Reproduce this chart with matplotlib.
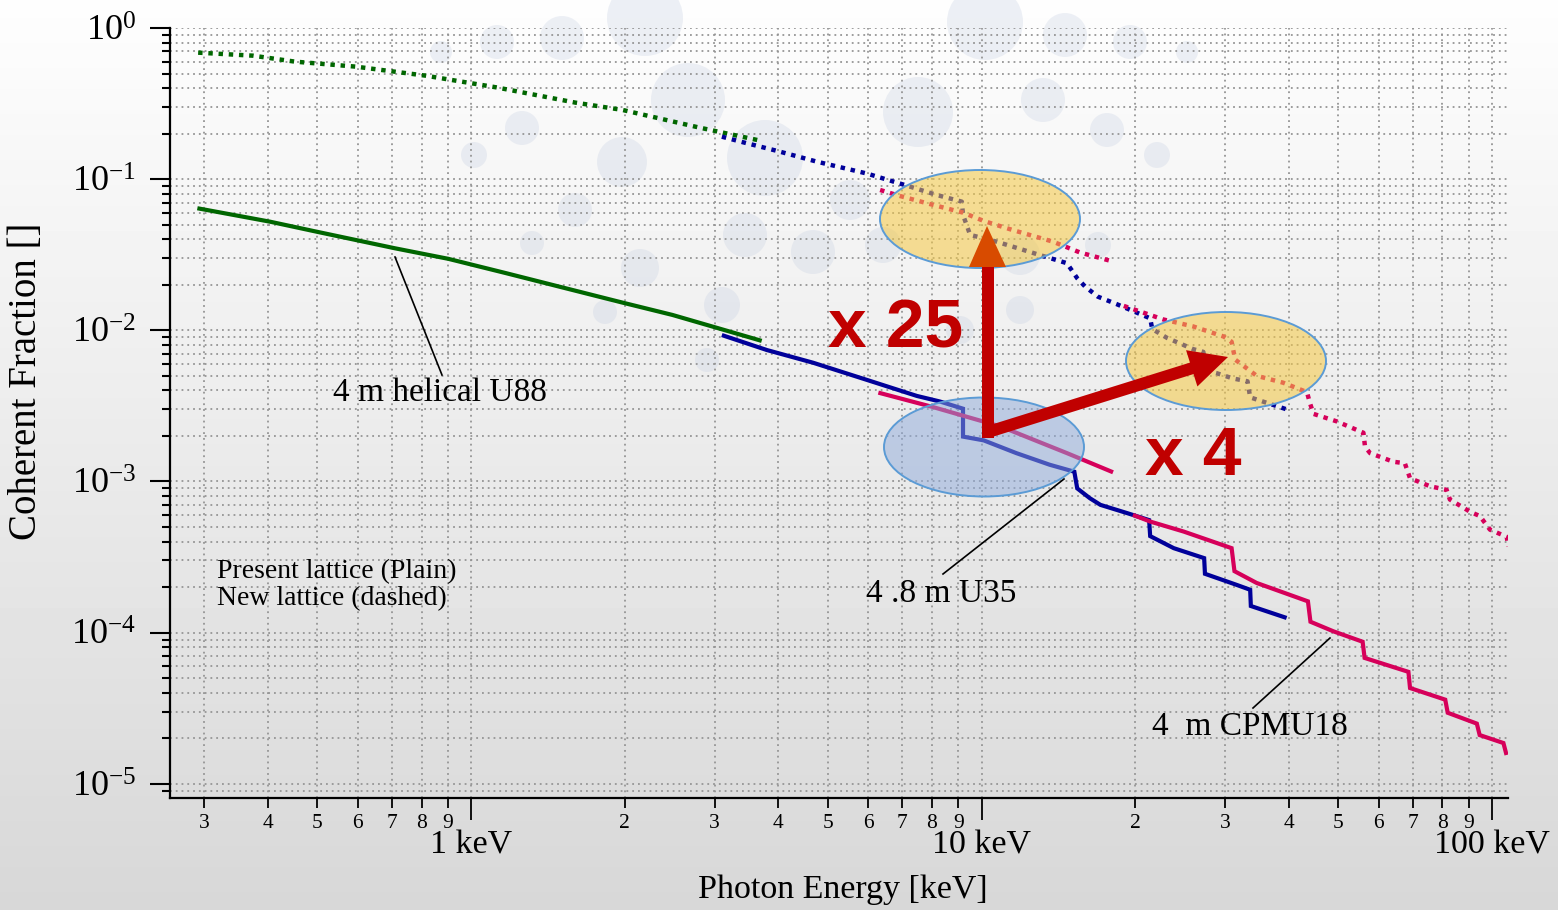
import numpy as np
import matplotlib
matplotlib.use("Agg")
import matplotlib.pyplot as plt
from matplotlib.patches import Ellipse, Circle, FancyArrow, Polygon
from matplotlib.transforms import Affine2D
from matplotlib.ticker import FixedLocator, FixedFormatter, LogLocator, FuncFormatter, NullFormatter
from matplotlib.lines import Line2D

plt.rcParams['font.family'] = ['Liberation Serif', 'DejaVu Serif']
plt.rcParams['mathtext.fontset'] = 'custom'
plt.rcParams['mathtext.rm'] = 'Liberation Serif'
plt.rcParams['mathtext.it'] = 'Liberation Serif:italic'
plt.rcParams['mathtext.bf'] = 'Liberation Serif:bold'

# ---- coherent fraction vs photon energy [keV] ----
# 4 m helical U88
u88_present_e = [0.291, 0.404, 0.497, 0.709, 0.903, 1.17, 1.53, 1.98, 2.48, 3.05, 3.71]
u88_present_cf = [0.0642, 0.0523, 0.0450, 0.0349, 0.0297, 0.0239, 0.0190, 0.01525, 0.01264, 0.01032, 0.00851]
u88_new_e = [0.292, 0.374, 0.452, 0.595, 0.814, 1.12, 1.60, 1.98, 2.79, 3.71]
u88_new_cf = [0.687, 0.656, 0.599, 0.555, 0.484, 0.405, 0.321, 0.287, 0.220, 0.179]

# 4.8 m U35
u35_present_e = [3.10, 3.80, 4.68, 5.96, 7.47, 8.29, 9.20, 9.20, 10.1, 11.7, 13.6, 15.2, 15.4, 16.3,
                 17.1, 19.3, 21.3, 21.4, 23.8, 27.3, 27.4, 31.6, 33.6, 33.7, 39.6]
u35_present_cf = [0.0093, 0.0074, 0.0061, 0.0047, 0.00368, 0.00338, 0.00303, 0.00198, 0.00187, 0.00154,
                  0.00129, 0.00116, 0.00090, 0.000775, 0.00070, 0.000617, 0.000555, 0.000435, 0.000362,
                  0.000311, 0.000245, 0.000207, 0.000192, 0.000150, 0.000125]
u35_new_e = [3.10, 3.42, 3.97, 4.76, 5.96, 7.14, 8.17, 9.15, 9.2, 9.5, 10.7, 13.0, 14.7, 15.4, 15.95,
             16.9, 18.4, 21.4, 21.6, 23.1, 26.0, 27.2, 27.6, 28.9, 31.1, 33.2, 33.6, 39.6]
u35_new_cf = [0.191, 0.175, 0.154, 0.1305, 0.109, 0.0906, 0.0786, 0.071, 0.058, 0.0428, 0.0386, 0.0315,
              0.0278, 0.0221, 0.0195, 0.0167, 0.0149, 0.0120, 0.0102, 0.0089, 0.0075, 0.0072, 0.0054,
              0.0052, 0.0048, 0.0046, 0.0036, 0.0030]

# 4 m CPMU18 (two harmonic ranges)
cpmu18_present_lo_e = [6.28, 8.05, 10.9, 14.7, 18.1]
cpmu18_present_lo_cf = [0.00387, 0.0031, 0.00231, 0.00154, 0.00115]
cpmu18_present_hi_e = [19.8, 21.4, 24.9, 30.9, 31.3, 34.6, 43.6, 44.1, 48.9, 55.8, 56.3, 68.6, 69.1,
                       81.0, 81.9, 93.4, 94.6, 105.3, 106.8]
cpmu18_present_hi_cf = [0.000601, 0.000543, 0.000466, 0.000362, 0.000255, 0.000213, 0.000161, 0.000118,
                        0.000102, 8.7e-5, 6.8e-5, 5.5e-5, 4.3e-5, 3.6e-5, 2.95e-5, 2.5e-5, 2.1e-5,
                        1.86e-5, 1.55e-5]
cpmu18_new_lo_e = [6.33, 6.92, 8.05, 9.21, 10.1, 11.5, 13.8, 15.6, 18.1]
cpmu18_new_lo_cf = [0.0848, 0.0774, 0.0675, 0.060, 0.0529, 0.0461, 0.0386, 0.0327, 0.0285]
cpmu18_new_hi_e = [19.0, 22.7, 26.0, 29.8, 30.9, 31.4, 34.6, 39.0, 43.4, 44.0, 44.7, 49.6, 56.0, 56.4,
                   57.7, 64.1, 67.5, 69.1, 75.6, 81.5, 82.7, 90.6, 94.7, 99.1, 106.9, 107.6]
cpmu18_new_hi_cf = [0.0145, 0.0118, 0.0106, 0.0091, 0.0084, 0.0064, 0.0050, 0.0045, 0.0039, 0.0033,
                    0.0028, 0.0025, 0.0021, 0.0017, 0.00154, 0.00135, 0.00132, 0.00105, 0.00093,
                    0.00088, 0.00076, 0.00063, 0.00059, 0.00048, 0.00043, 0.00037]

# axis ticks
x_major = [1, 10, 100]
x_major_labels = ['1 keV', '10 keV', '100 keV']
x_minor = [0.3, 0.4, 0.5, 0.6, 0.7, 0.8, 0.9,
           2, 3, 4, 5, 6, 7, 8, 9,
           20, 30, 40, 50, 60, 70, 80, 90]
x_minor_labels = ['3', '4', '5', '6', '7', '8', '9',
                  '2', '3', '4', '5', '6', '7', '8', '9',
                  '2', '3', '4', '5', '6', '7', '8', '9']

GREEN = '#006600'
BLUE = '#00009a'
CRIMSON = '#d6005a'

W, H = 1558, 910
fig = plt.figure(figsize=(W / 100, H / 100), dpi=100)
# pixel coordinates measured from the top-left corner of the canvas
pix = Affine2D().scale(1.0 / W, -1.0 / H).translate(0, 1) + fig.transFigure

# backdrop: soft vertical gradient plus faint decorative discs
bg = fig.add_axes([0, 0, 1, 1], zorder=-10)
grad = np.linspace(0.995, 0.845, 256).reshape(-1, 1)
bg.imshow(grad, cmap='gray', vmin=0, vmax=1, aspect='auto', extent=[0, 1, 0, 1], origin='upper')
bg.set_xlim(0, 1)
bg.set_ylim(0, 1)
bg.axis('off')
discs = [(645, 18, 38), (562, 38, 22), (497, 42, 17), (441, 52, 11),
         (985, 22, 38), (1065, 35, 22), (1130, 42, 17), (1187, 52, 11),
         (688, 100, 37), (522, 128, 17), (474, 155, 13), (622, 162, 25),
         (765, 158, 38), (918, 112, 35), (1043, 100, 22), (1107, 130, 17),
         (1157, 155, 13), (575, 210, 17), (532, 243, 12), (640, 268, 19),
         (745, 235, 22), (813, 252, 22), (883, 245, 18), (1020, 255, 20),
         (1098, 245, 13), (605, 312, 12), (722, 305, 18), (1020, 310, 14),
         (707, 360, 12), (850, 200, 20), (960, 330, 14)]
for cx, cy, r in discs:
    bg.add_patch(Circle((cx, cy), r, transform=pix, facecolor='#c5cfe2', edgecolor='none', alpha=0.3))

ax = fig.add_axes([170 / W, 1 - 798 / H, (1508 - 170) / W, (798 - 28) / H])
ax.set_facecolor('none')
ax.set_xscale('log')
ax.set_yscale('log')

solid = dict(lw=3.0, solid_capstyle='butt', solid_joinstyle='miter', zorder=3)
dotted = dict(lw=3.2, linestyle=(0, (1, 1.3)), zorder=3)

ax.plot(u88_present_e, u88_present_cf, color=GREEN, **solid)
ax.plot(u88_new_e, u88_new_cf, color=GREEN, **dotted)
ax.plot(u35_present_e, u35_present_cf, color=BLUE, **solid)
ax.plot(u35_new_e, u35_new_cf, color=BLUE, **dotted)
ax.plot(cpmu18_present_lo_e, cpmu18_present_lo_cf, color=CRIMSON, **solid)
ax.plot(cpmu18_present_hi_e, cpmu18_present_hi_cf, color=CRIMSON, **solid)
ax.plot(cpmu18_new_lo_e, cpmu18_new_lo_cf, color=CRIMSON, **dotted)
ax.plot(cpmu18_new_hi_e, cpmu18_new_hi_cf, color=CRIMSON, **dotted)

ax.set_xlim(0.2572, 107.5)
ax.set_ylim(8.05e-6, 1.0)

ax.xaxis.set_major_locator(FixedLocator(x_major))
ax.xaxis.set_major_formatter(FixedFormatter(x_major_labels))
ax.xaxis.set_minor_locator(FixedLocator(x_minor))
ax.xaxis.set_minor_formatter(FixedFormatter(x_minor_labels))
ax.yaxis.set_major_locator(LogLocator(base=10, numticks=20))
ax.yaxis.set_minor_locator(LogLocator(base=10, subs=np.arange(2, 10), numticks=20))
ax.yaxis.set_major_formatter(FuncFormatter(lambda v, p: r'$\mathregular{10^{%d}}$' % int(round(np.log10(v)))))
ax.yaxis.set_minor_formatter(NullFormatter())

ax.tick_params(axis='y', which='major', direction='out', length=14.5, width=1.5, labelsize=26, pad=10)
ax.tick_params(axis='y', which='minor', direction='out', length=6, width=1.5)
ax.tick_params(axis='x', which='major', direction='out', length=16, width=1.3, labelsize=24.5, pad=7)
ax.tick_params(axis='x', which='minor', direction='out', length=7.2, width=1.3, labelsize=15.5, pad=4)

ax.grid(True, which='both', color='#959595', linestyle=(0, (1, 2.2)), linewidth=1.3)
ax.set_axisbelow(True)
for side in ('top', 'right'):
    ax.spines[side].set_visible(False)
for side in ('left', 'bottom'):
    ax.spines[side].set_linewidth(1.6)

fig.text(843, 890, 'Photon Energy [keV]', transform=pix, ha='center', va='center', fontsize=24.5)
fig.text(27, 381, 'Coherent Fraction []', transform=pix, ha='center', va='center', rotation=90, fontsize=28)

# highlight ellipses
fig.add_artist(Ellipse((980, 219), 200, 98, transform=pix, facecolor='#f5c842', alpha=0.55,
                       edgecolor='none', zorder=4))
fig.add_artist(Ellipse((980, 219), 200, 98, transform=pix, facecolor='none',
                       edgecolor='#5b9bd5', lw=1.4, zorder=4))
fig.add_artist(Ellipse((1226, 361), 200, 98, transform=pix, facecolor='#f5c842', alpha=0.55,
                       edgecolor='none', zorder=4))
fig.add_artist(Ellipse((1226, 361), 200, 98, transform=pix, facecolor='none',
                       edgecolor='#5b9bd5', lw=1.4, zorder=4))
fig.add_artist(Ellipse((984, 447), 200, 99, transform=pix, facecolor='#8eaadb', alpha=0.5,
                       edgecolor='none', zorder=4))
fig.add_artist(Ellipse((984, 447), 200, 99, transform=pix, facecolor='none',
                       edgecolor='#5b9bd5', lw=1.4, zorder=4))

# gain arrows
fig.add_artist(FancyArrow(988, 432, 1228 - 988, 357 - 432, width=12, head_width=38, head_length=38,
                          length_includes_head=True, transform=pix, facecolor='#c00000',
                          edgecolor='none', zorder=5))
fig.add_artist(Polygon([(982, 438), (994, 438), (994, 265), (982, 265)], closed=True, transform=pix,
                       facecolor='#c00000', edgecolor='none', zorder=5))
fig.add_artist(Polygon([(969, 267), (1006, 267), (987, 226)], closed=True, transform=pix,
                       facecolor='#d84b00', edgecolor='none', zorder=5))

bold = dict(family=['Liberation Sans', 'DejaVu Sans'], fontweight='bold', color='#c00000', fontsize=50,
            transform=pix, va='baseline', ha='left', zorder=6)
fig.text(828, 348, 'x 25', **bold)
fig.text(1145, 475, 'x 4', **bold)

# curve labels with leader lines
lbl = dict(transform=pix, va='baseline', ha='left', fontsize=24, zorder=6)
fig.text(333, 401, '4 m helical U88', **lbl)
fig.text(866, 602, '4 .8 m U35', **lbl)
fig.text(1152, 735, '4  m CPMU18', **lbl)
for (x0, y0), (x1, y1) in [((395, 257), (442, 375)), ((943, 574), (1064, 479)), ((1253, 708), (1330, 638))]:
    fig.add_artist(Line2D([x0, x1], [y0, y1], transform=pix, color='black', lw=1.2, zorder=6))

fig.text(217, 578, 'Present lattice (Plain)', transform=pix, va='baseline', ha='left', fontsize=20)
fig.text(217, 605, 'New lattice (dashed)', transform=pix, va='baseline', ha='left', fontsize=20)

fig.savefig('out.png', dpi=100)
